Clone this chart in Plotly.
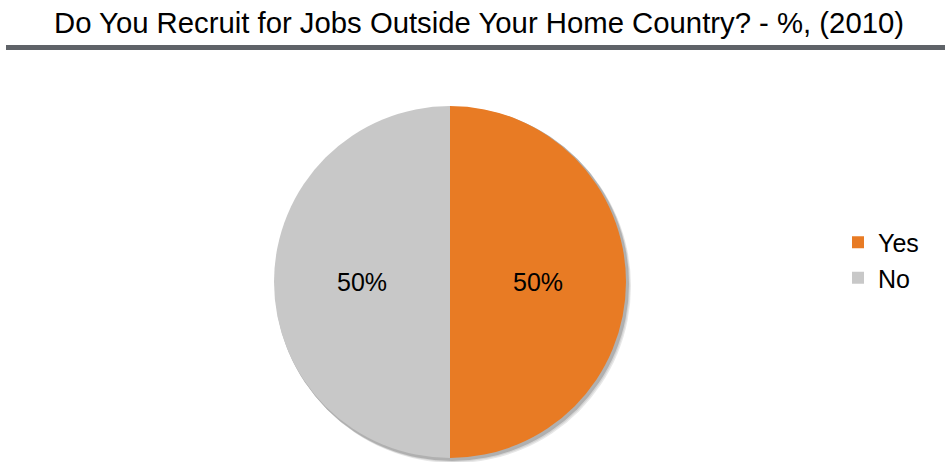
import plotly.graph_objects as go

labels = ["Yes", "No"]
values = [50, 50]
colors = ["#E87B24", "#C8C8C8"]
title_text = "Do You Recruit for Jobs Outside Your Home Country? - %, (2010)"

W, H = 945, 462
FONT = "Liberation Sans, Arial, sans-serif"

def px_x(x):
    return x / W

def px_y(y):
    return 1 - y / H

fig = go.Figure()
fig.add_trace(go.Pie(
    labels=labels,
    values=values,
    sort=False,
    direction="clockwise",
    rotation=0,
    marker=dict(colors=colors, line=dict(width=0)),
    texttemplate="%{percent:.0%}",
    textposition="inside",
    insidetextorientation="horizontal",
    textfont=dict(family=FONT, size=25, color="#000000"),
    domain=dict(x=[px_x(274), px_x(626)], y=[px_y(458), px_y(106)]),
    hoverinfo="label+percent",
))

# soft shadow behind the pie
for off, col in [(5, "#e8e8e8"), (4, "#d4d4d4"), (3, "#b0b0b0")]:
    fig.add_shape(type="circle", xref="paper", yref="paper",
                  x0=px_x(274 + off - 2), x1=px_x(626 + off),
                  y0=px_y(458 + off), y1=px_y(106 + off - 2),
                  fillcolor=col, line=dict(width=0), layer="below")

# title underline bar
fig.add_shape(type="rect", xref="paper", yref="paper",
              x0=px_x(6), x1=px_x(945), y0=px_y(50), y1=px_y(45),
              fillcolor="#5f6368", line=dict(width=0), layer="above")

fig.update_layout(
    width=W, height=H,
    margin=dict(l=0, r=0, t=0, b=0),
    paper_bgcolor="#ffffff",
    plot_bgcolor="#ffffff",
    title=dict(text=title_text, x=px_x(479), xanchor="center", y=px_y(23), yanchor="middle",
               font=dict(family=FONT, size=29.3, color="#000000")),
    legend=dict(x=px_x(838), y=px_y(260), xanchor="left", yanchor="middle",
                font=dict(family=FONT, size=25, color="#000000"),
                bgcolor="rgba(0,0,0,0)"),
    showlegend=True,
)

fig.write_html("out.html", config={"displayModeBar": False},
               post_script="document.body.style.margin='0';document.body.style.overflow='hidden';")
